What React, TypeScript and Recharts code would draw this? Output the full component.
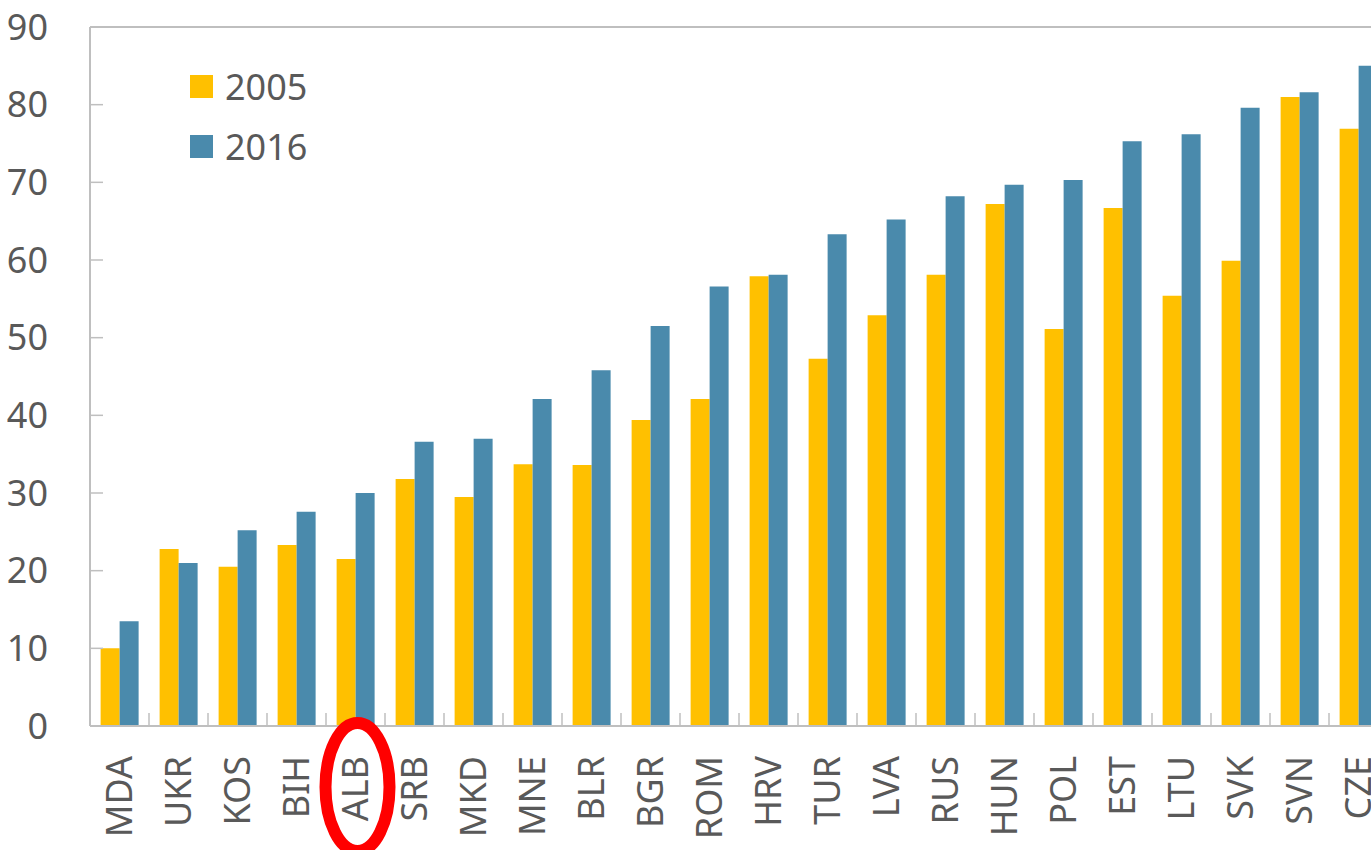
import { BarChart, Bar, XAxis, YAxis, Legend, ReferenceLine } from 'recharts'

const countries = ['MDA', 'UKR', 'KOS', 'BIH', 'ALB', 'SRB', 'MKD', 'MNE', 'BLR', 'BGR', 'ROM', 'HRV', 'TUR', 'LVA', 'RUS', 'HUN', 'POL', 'EST', 'LTU', 'SVK', 'SVN', 'CZE']
const values2005 = [10.0, 22.8, 20.5, 23.3, 21.5, 31.8, 29.5, 33.7, 33.6, 39.4, 42.1, 57.9, 47.3, 52.9, 58.1, 67.2, 51.1, 66.7, 55.4, 59.9, 81.0, 76.9]
const values2016 = [13.5, 21.0, 25.2, 27.6, 30.0, 36.6, 37.0, 42.1, 45.8, 51.5, 56.6, 58.1, 63.3, 65.2, 68.2, 69.7, 70.3, 75.3, 76.2, 79.6, 81.6, 85.0]
const yTicks = [0, 10, 20, 30, 40, 50, 60, 70, 80, 90]
const highlighted = 'ALB'

const data = countries.map((c, i) => ({ country: c, y2005: values2005[i], y2016: values2016[i] }))

const FONT = '"Noto Sans", "Open Sans", sans-serif'
const TEXT = '#595959'
const AXIS = '#bfbfbf'

function CountryTick(props: any) {
  const { x, y, payload } = props
  const half = payload.offset ?? 0
  return (
    <g>
      {/* band boundary tick, pointing up into the plot */}
      <line x1={x - half} x2={x - half} y1={y} y2={y - 13} stroke={AXIS} strokeWidth={1.5} />
      <text
        x={0}
        y={0}
        dy="0.35em"
        transform={`translate(${x},${y + 30}) rotate(-90)`}
        textAnchor="end"
        fill={TEXT}
        fontSize={36}
        fontFamily={FONT}
      >
        {payload.value}
      </text>
      {payload.value === highlighted && (
        <ellipse cx={x + 2} cy={y + 61} rx={32} ry={64} fill="none" stroke="#ff0000" strokeWidth={12} />
      )}
    </g>
  )
}

function LegendBox({ payload }: any) {
  return (
    <div style={{ fontFamily: FONT }}>
      {(payload || []).map((p: any) => (
        <div key={p.value} style={{ display: 'flex', alignItems: 'center', height: 60 }}>
          <span style={{ display: 'inline-block', width: 23, height: 23, background: p.color, marginRight: 12 }} />
          <span style={{ fontSize: 36, color: TEXT }}>{p.value}</span>
        </div>
      ))}
    </div>
  )
}

export default function App() {
  return (
    <div style={{ position: 'fixed', left: 0, top: 0, width: 1371, height: 850, overflow: 'hidden', background: '#fff' }}>
      <BarChart
        width={1400}
        height={850}
        data={data}
        margin={{ top: 27, right: 12, left: 0, bottom: 0 }}
        barCategoryGap="18%"
        barGap={0}
      >
        <XAxis
          dataKey="country"
          interval={0}
          height={124}
          tickSize={0}
          tickMargin={0}
          tickLine={false}
          axisLine={{ stroke: AXIS, strokeWidth: 2 }}
          tick={<CountryTick />}
        />
        <YAxis
          domain={[0, 90]}
          ticks={yTicks}
          interval={0}
          width={90}
          tickSize={-13}
          tickMargin={55}
          axisLine={{ stroke: AXIS, strokeWidth: 2 }}
          tickLine={{ stroke: AXIS, strokeWidth: 1.5 }}
          tick={{ fontSize: 36, fill: TEXT, fontFamily: FONT }}
        />
        <ReferenceLine y={90} stroke={AXIS} strokeWidth={2} />
        <Legend
          layout="vertical"
          align="center"
          verticalAlign="middle"
          wrapperStyle={{ top: 56, left: 190, width: 200 }}
          content={<LegendBox />}
        />
        <Bar dataKey="y2005" name="2005" fill="#ffc000" isAnimationActive={false} />
        <Bar dataKey="y2016" name="2016" fill="#4a8aac" isAnimationActive={false} />
      </BarChart>
    </div>
  )
}
